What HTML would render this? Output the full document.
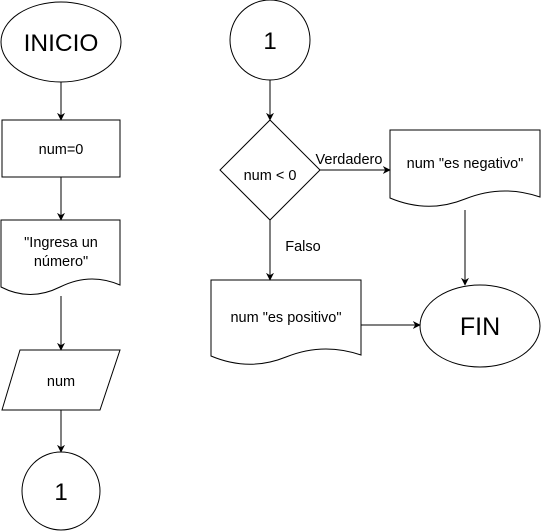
<!DOCTYPE html>
<html><head><meta charset="utf-8">
<style>
html,body{margin:0;padding:0;background:#fff;}
svg{display:block;}
text{font-family:"Liberation Sans",Arial,sans-serif;fill:#000;}
</style></head>
<body>
<svg width="541" height="531" viewBox="0 0 541 531" xmlns="http://www.w3.org/2000/svg">
<defs>
<marker id="a" viewBox="0 0 10 10" refX="9" refY="5" markerWidth="8" markerHeight="8" orient="auto" markerUnits="userSpaceOnUse">
<path d="M0,0 L10,5 L0,10 L3,5 Z" fill="#000"/>
</marker>
</defs>
<g fill="#fff" stroke="#000" stroke-width="1">
<ellipse cx="61" cy="42" rx="60" ry="40"/>
<rect x="2" y="120" width="118" height="57"/>
<path d="M1,220 L120,220 L120,285 Q90,272 60,287 Q30,302 1,287 Z"/>
<path d="M20,350 L120,350 L100,410 L2,410 Z"/>
<circle cx="61" cy="491" r="39"/>
<circle cx="270" cy="40" r="40"/>
<path d="M270,120 L320,170 L270,220 L220,170 Z"/>
<path d="M390,130 L540,130 L540,197 Q502,184 465,199 Q428,214 390,198 Z"/>
<path d="M211,280 L361,280 L361,355 Q323,342 286,357 Q249,372 211,356 Z"/>
<ellipse cx="480" cy="326" rx="60" ry="41"/>
</g>
<g stroke="#000" stroke-width="1" fill="none" marker-end="url(#a)">
<line x1="61" y1="82" x2="61" y2="120"/>
<line x1="61" y1="177" x2="61" y2="220"/>
<line x1="61" y1="296" x2="61" y2="350"/>
<line x1="61" y1="410" x2="61" y2="452"/>
<line x1="270" y1="80" x2="270" y2="120"/>
<line x1="320" y1="170" x2="390" y2="170"/>
<line x1="270" y1="220" x2="270" y2="280"/>
<line x1="465" y1="210" x2="465" y2="285"/>
<line x1="361" y1="325" x2="420" y2="325"/>
</g>
<g text-anchor="middle" font-size="14.5">
<text x="61" y="51" font-size="24.5">INICIO</text>
<text x="61" y="154">num=0</text>
<text x="61" y="247">"Ingresa un</text>
<text x="61" y="266">número"</text>
<text x="61" y="386">num</text>
<text x="61" y="500" font-size="24">1</text>
<text x="270" y="49" font-size="24">1</text>
<text x="270" y="180">num &lt; 0</text>
<text x="465" y="168">num "es negativo"</text>
<text x="286" y="322">num "es positivo"</text>
<text x="480" y="335" font-size="25">FIN</text>
<text x="349" y="164">Verdadero</text>
<text x="303" y="251">Falso</text>
</g>
</svg>
</body></html>
